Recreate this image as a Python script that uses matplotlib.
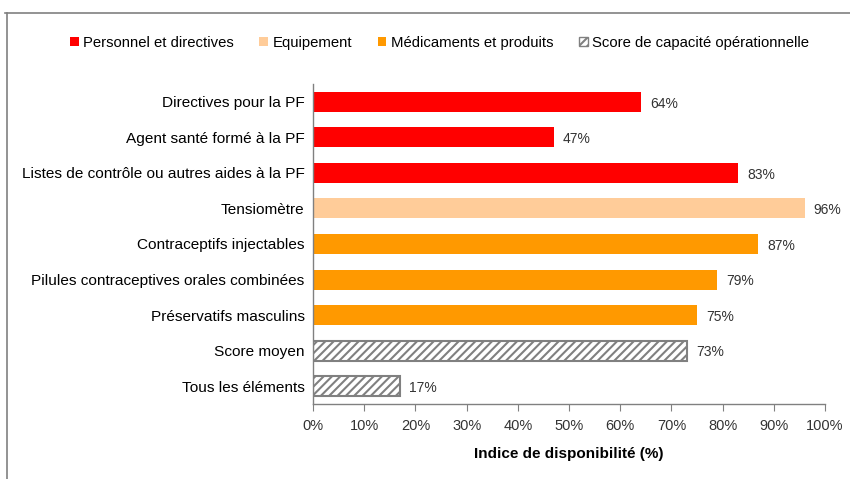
import matplotlib
matplotlib.use("Agg")
import matplotlib.pyplot as plt
from matplotlib.patches import Patch
from matplotlib.lines import Line2D
from matplotlib import font_manager

names = {f.name for f in font_manager.fontManager.ttflist}
fam = ['Liberation Sans Narrow', 'Liberation Sans', 'DejaVu Sans']
fam = [f for f in fam if f in names] or ['DejaVu Sans']
plt.rcParams['font.family'] = fam
plt.rcParams['hatch.linewidth'] = 1.5

categories = ["Directives pour la PF", "Agent santé formé à la PF",
              "Listes de contrôle ou autres aides à la PF", "Tensiomètre",
              "Contraceptifs injectables", "Pilules contraceptives orales combinées",
              "Préservatifs masculins", "Score moyen", "Tous les éléments"]
values = [64, 47, 83, 96, 87, 79, 75, 73, 17]
groups = [0, 0, 0, 1, 2, 2, 2, 3, 3]
group_names = ["Personnel et directives", "Equipement", "Médicaments et produits",
               "Score de capacité opérationnelle"]
group_colors = ["#FF0000", "#FFCC99", "#FF9900", "white"]
xticks = [0, 10, 20, 30, 40, 50, 60, 70, 80, 90, 100]

fig = plt.figure(figsize=(8.5, 4.79), dpi=100)
ax = fig.add_axes([313/850, 1-404/479, 512/850, 320/479])

ypos = list(range(len(categories)))
for y, v, g in zip(ypos, values, groups):
    if g == 3:
        ax.barh(y, v, height=0.56, color='white', edgecolor='#808080',
                hatch='////', linewidth=1.5)
    else:
        ax.barh(y, v, height=0.56, color=group_colors[g], edgecolor='none')
    ax.text(v + 1.8, y + 0.05, f"{v}%", va='center', ha='left', fontsize=10, color='#333333')

ax.set_ylim(len(categories) - 0.5, -0.5)
ax.set_xlim(0, 100)
ax.set_yticks(ypos)
ax.set_yticklabels(categories, fontsize=11.1)
ax.set_xticks(xticks)
ax.set_xticklabels([f"{t}%" for t in xticks], fontsize=10.5, color='#333333')
ax.tick_params(axis='y', length=0, pad=6)
ax.tick_params(axis='x', length=5, color='#808080', direction='out', pad=6)
for s in ['top', 'right']:
    ax.spines[s].set_visible(False)
for s in ['left', 'bottom']:
    ax.spines[s].set_color('#808080')
    ax.spines[s].set_linewidth(1.0)
ax.set_xlabel("Indice de disponibilité (%)", fontsize=11, fontweight='bold', labelpad=10)

handles = []
for i, n in enumerate(group_names):
    if i == 3:
        handles.append(Patch(facecolor='white', edgecolor='#808080', hatch='////', label=n))
    else:
        handles.append(Patch(facecolor=group_colors[i], edgecolor='none', label=n))
fig.legend(handles=handles, loc='center', bbox_to_anchor=(0.517, 1-43/479), ncol=4,
           frameon=False, fontsize=10.7, handlelength=0.6, handleheight=0.6,
           handletextpad=0.3, columnspacing=1.7)

fig.add_artist(Line2D([5/850, 1], [1-13/479, 1-13/479], color='#808080', lw=1.2,
                      transform=fig.transFigure))
fig.add_artist(Line2D([7/850, 7/850], [0, 1-13/479], color='#808080', lw=1.2,
                      transform=fig.transFigure))

fig.savefig("out.png", dpi=100)
